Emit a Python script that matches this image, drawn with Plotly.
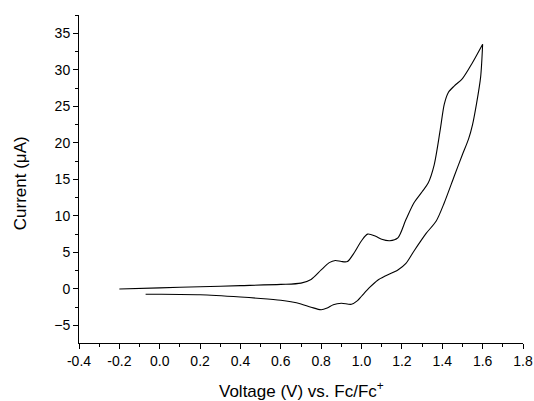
import plotly.graph_objects as go

# Forward (anodic) sweep
v_fwd = [-0.2, 0.0, 0.2, 0.4, 0.6, 0.7, 0.75, 0.8, 0.84, 0.87, 0.9, 0.93, 0.96, 1.0, 1.03,
         1.07, 1.1, 1.14, 1.18, 1.22, 1.26, 1.3, 1.33, 1.36, 1.39, 1.41, 1.43, 1.46, 1.5, 1.55, 1.6]
i_fwd = [0.0, 0.15, 0.3, 0.45, 0.62, 0.8, 1.3, 2.6, 3.6, 3.9, 3.75, 3.75, 4.8, 6.6, 7.5,
         7.2, 6.8, 6.6, 7.0, 9.5, 11.8, 13.3, 14.5, 17.0, 21.8, 25.3, 26.9, 27.8, 28.8, 31.0, 33.5]
# Reverse (cathodic) sweep
v_rev = [1.6, 1.59, 1.57, 1.55, 1.53, 1.5, 1.46, 1.41, 1.37, 1.32, 1.26, 1.22, 1.18, 1.12, 1.08,
         1.04, 1.0, 0.98, 0.95, 0.9, 0.86, 0.83, 0.8, 0.75, 0.7, 0.65, 0.6, 0.5, 0.4, 0.2, 0.0, -0.07]
i_rev = [33.5, 29.0, 25.4, 22.5, 20.5, 18.4, 15.5, 11.8, 9.3, 7.6, 5.2, 3.5, 2.6, 1.8, 1.2,
         0.2, -1.0, -1.6, -2.1, -1.95, -2.15, -2.6, -2.85, -2.5, -2.05, -1.75, -1.55, -1.3, -1.1, -0.8, -0.73, -0.73]

x_ticks = [-0.4, -0.2, 0.0, 0.2, 0.4, 0.6, 0.8, 1.0, 1.2, 1.4, 1.6, 1.8]
x_labels = ["-0.4", "-0.2", "0.0", "0.2", "0.4", "0.6", "0.8", "1.0", "1.2", "1.4", "1.6", "1.8"]
y_ticks = [-5, 0, 5, 10, 15, 20, 25, 30, 35]

FONT = "Liberation Sans, Arial, sans-serif"

fig = go.Figure()
fig.add_trace(go.Scatter(
    x=v_fwd + v_rev, y=i_fwd + i_rev, mode="lines",
    line=dict(color="black", width=1.1, shape="spline", smoothing=0.8),
    showlegend=False, hoverinfo="skip"))

axis_common = dict(
    showgrid=False, zeroline=False, showline=True, linecolor="black", linewidth=1,
    ticks="outside", ticklen=5, tickwidth=1, tickcolor="black",
    tickfont=dict(family=FONT, size=14, color="black"),
    mirror=False, automargin=False,
)
fig.update_xaxes(
    range=[-0.4, 1.8], tickmode="array", tickvals=x_ticks, ticktext=x_labels,
    minor=dict(dtick=0.1, ticks="outside", ticklen=3, tickcolor="black", showgrid=False),
    **axis_common)
fig.update_yaxes(
    range=[-7.4, 37.5], tickmode="array", tickvals=y_ticks,
    minor=dict(dtick=2.5, tick0=0, ticks="outside", ticklen=3, tickcolor="black", showgrid=False),
    **axis_common)

fig.add_annotation(text="Voltage (V) vs. Fc/Fc<sup>+</sup>", xref="paper", yref="paper",
                   x=0.5, y=-0.143, xanchor="center", yanchor="middle", showarrow=False,
                   font=dict(family=FONT, size=17, color="black"))
fig.add_annotation(text="Current (μA)", xref="paper", yref="paper",
                   x=-0.133, y=0.487, xanchor="center", yanchor="middle", showarrow=False,
                   textangle=-90, font=dict(family=FONT, size=17, color="black"))

fig.update_layout(
    width=534, height=401,
    margin=dict(l=79, r=11, t=15, b=58),
    plot_bgcolor="white", paper_bgcolor="white",
)
fig.write_html("out.html")
